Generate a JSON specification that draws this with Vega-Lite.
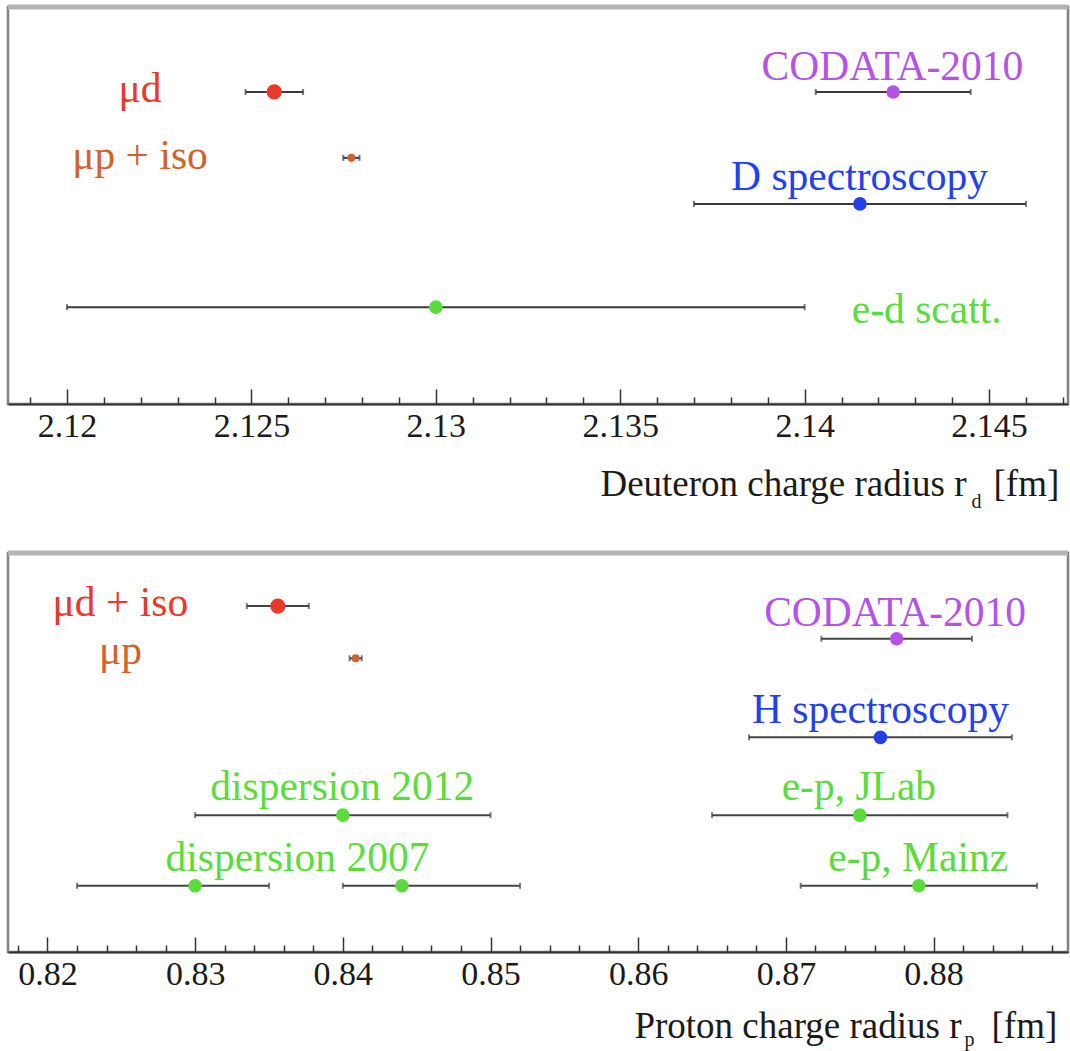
{
  "$schema": "https://vega.github.io/schema/vega-lite/v6.json",
  "padding": {"left": 4, "top": 3, "right": 2, "bottom": 0},
  "autosize": {"type": "pad"},
  "background": "white",
  "bounds": "flush",
  "spacing": 149,
  "config": {
    "view": {"stroke": "#808080", "strokeWidth": 2.5},
    "axis": {"grid": false}
  },
  "datasets": {
    "deut": [
      {"name": "μd", "kind": "muon-d", "r": 2.12562, "lo": 2.12484, "hi": 2.1264, "y": 7.86},
      {"name": "μp + iso", "kind": "muon-p", "r": 2.12771, "lo": 2.12749, "hi": 2.12793, "y": 6.2},
      {"name": "CODATA-2010", "kind": "codata", "r": 2.1424, "lo": 2.1403, "hi": 2.1445, "y": 7.86},
      {"name": "D spectroscopy", "kind": "spectroscopy", "r": 2.1415, "lo": 2.137, "hi": 2.146, "y": 5.04},
      {"name": "e-d scatt.", "kind": "scattering", "r": 2.13, "lo": 2.12, "hi": 2.14, "y": 2.44}
    ],
    "deutLabels": [
      {"text": "μd", "kind": "muon-d", "x": 2.12198, "y": 7.61},
      {"text": "μp + iso", "kind": "muon-p", "x": 2.12198, "y": 5.92},
      {"text": "CODATA-2010", "kind": "codata", "x": 2.14238, "y": 8.17},
      {"text": "D spectroscopy", "kind": "spectroscopy", "x": 2.14149, "y": 5.4},
      {"text": "e-d scatt.", "kind": "scattering", "x": 2.14331, "y": 2.04}
    ],
    "prot": [
      {"name": "μd + iso", "kind": "muon-d", "r": 0.8356, "lo": 0.8335, "hi": 0.8377, "y": 8.67},
      {"name": "μp", "kind": "muon-p", "r": 0.84087, "lo": 0.84046, "hi": 0.84128, "y": 7.36},
      {"name": "CODATA-2010", "kind": "codata", "r": 0.8775, "lo": 0.8724, "hi": 0.8826, "y": 7.85},
      {"name": "H spectroscopy", "kind": "spectroscopy", "r": 0.8764, "lo": 0.8675, "hi": 0.8853, "y": 5.38},
      {"name": "dispersion 2012", "kind": "scattering", "r": 0.84, "lo": 0.83, "hi": 0.85, "y": 3.43},
      {"name": "e-p, JLab", "kind": "scattering", "r": 0.875, "lo": 0.865, "hi": 0.885, "y": 3.43},
      {"name": "dispersion 2007 (a)", "kind": "scattering", "r": 0.83, "lo": 0.822, "hi": 0.835, "y": 1.66},
      {"name": "dispersion 2007 (b)", "kind": "scattering", "r": 0.844, "lo": 0.84, "hi": 0.852, "y": 1.66},
      {"name": "e-p, Mainz", "kind": "scattering", "r": 0.879, "lo": 0.871, "hi": 0.887, "y": 1.66}
    ],
    "protLabels": [
      {"text": "μd + iso", "kind": "muon-d", "x": 0.82494, "y": 8.42},
      {"text": "μp", "kind": "muon-p", "x": 0.82494, "y": 7.21},
      {"text": "CODATA-2010", "kind": "codata", "x": 0.87739, "y": 8.18},
      {"text": "H spectroscopy", "kind": "spectroscopy", "x": 0.8764, "y": 5.74},
      {"text": "dispersion 2012", "kind": "scattering", "x": 0.83996, "y": 3.8},
      {"text": "e-p, JLab", "kind": "scattering", "x": 0.87494, "y": 3.8},
      {"text": "dispersion 2007", "kind": "scattering", "x": 0.83693, "y": 2.03},
      {"text": "e-p, Mainz", "kind": "scattering", "x": 0.87896, "y": 2.03}
    ]
  },
  "vconcat": [
    {
      "width": 1060,
      "height": 397,
      "layer": [
        {
          "data": {"values": [{}]},
          "mark": {"type": "rule", "color": "#b4b4b4", "strokeWidth": 5},
          "encoding": {"y": {"datum": 10, "type": "quantitative", "scale": {"domain": [0, 10], "nice": false, "zero": false}, "axis": null}}
        },
        {
          "data": {"name": "deut"},
          "mark": {"type": "rule", "color": "#3a3a3a", "strokeWidth": 2},
          "encoding": {
            "x": {"field": "lo", "type": "quantitative", "scale": {"domain": [2.1184, 2.14714], "nice": false, "zero": false},
              "axis": {
                "orient": "bottom",
                "values": [2.119, 2.12, 2.121, 2.122, 2.123, 2.124, 2.125, 2.126, 2.127, 2.128, 2.129, 2.13, 2.131, 2.132, 2.133, 2.134, 2.135, 2.136, 2.137, 2.138, 2.139, 2.14, 2.141, 2.142, 2.143, 2.144, 2.145, 2.146, 2.147],
                "domainColor": "#333", "domainWidth": 2,
                "tickColor": "#333", "tickWidth": 1.5,
                "tickSize": {"condition": {"test": "abs(datum.value*200-round(datum.value*200))<1e-6", "value": -15}, "value": -7},
                "labelExpr": "abs(datum.value*200-round(datum.value*200))<1e-6 ? toString(round(datum.value*1000)/1000) : ''",
                "labelFont": "Liberation Serif", "labelFontSize": 34, "labelColor": "#1a1a1a",
                "labelBaseline": "alphabetic", "labelPadding": 47,
                "labelOverlap": false, "labelFlush": false,
                "title": "Deuteron charge radius r",
                "titleFont": "Liberation Serif", "titleFontSize": 37, "titleFontWeight": "normal", "titleColor": "#1a1a1a",
                "titleAnchor": "end", "titleAlign": "right", "titleBaseline": "alphabetic", "titleX": 958, "titleY": 91
              }},
            "x2": {"field": "hi"},
            "y": {"field": "y", "type": "quantitative", "scale": {"domain": [0, 10], "nice": false, "zero": false}, "axis": null}
          }
        },
        {
          "data": {"name": "deut"},
          "mark": {"type": "tick", "orient": "vertical", "size": 6, "thickness": 2, "color": "#3a3a3a"},
          "encoding": {
            "x": {"field": "lo", "type": "quantitative",
              "axis": {"orient": "bottom", "domain": false, "ticks": false, "labels": false, "grid": false,
                "title": "[fm]", "titleFont": "Liberation Serif", "titleFontSize": 37, "titleFontWeight": "normal", "titleColor": "#1a1a1a",
                "titleAnchor": "start", "titleAlign": "left", "titleBaseline": "alphabetic", "titleX": 985, "titleY": 91}},
            "y": {"field": "y", "type": "quantitative", "axis": null}
          }
        },
        {
          "data": {"name": "deut"},
          "mark": {"type": "tick", "orient": "vertical", "size": 6, "thickness": 2, "color": "#3a3a3a"},
          "encoding": {
            "x": {"field": "hi", "type": "quantitative", "axis": null},
            "y": {"field": "y", "type": "quantitative", "axis": null}
          }
        },
        {
          "data": {"name": "deut"},
          "mark": {"type": "circle", "opacity": 1},
          "encoding": {
            "x": {"field": "r", "type": "quantitative", "axis": null},
            "y": {"field": "y", "type": "quantitative", "axis": null},
            "color": {"field": "kind", "type": "nominal", "legend": null,
              "scale": {"domain": ["muon-d", "muon-p", "codata", "spectroscopy", "scattering"], "range": ["#e8392b", "#d2612b", "#b553e8", "#2340ef", "#5bdc3c"]}},
            "size": {"condition": [{"test": "datum.kind === 'muon-p'", "value": 65}, {"test": "datum.kind === 'muon-d'", "value": 230}], "value": 185}
          }
        },
        {
          "data": {"name": "deutLabels"},
          "mark": {"type": "text", "font": "Liberation Serif", "fontSize": 41.5, "align": "center", "baseline": "alphabetic"},
          "encoding": {
            "x": {"field": "x", "type": "quantitative",
              "axis": {"orient": "bottom", "domain": false, "ticks": false, "labels": false, "grid": false,
                "title": "d", "titleFont": "Liberation Serif", "titleFontSize": 20, "titleFontWeight": "normal", "titleColor": "#1a1a1a",
                "titleAnchor": "start", "titleAlign": "left", "titleBaseline": "alphabetic", "titleX": 963, "titleY": 103}},
            "y": {"field": "y", "type": "quantitative", "axis": null},
            "text": {"field": "text"},
            "color": {"field": "kind", "type": "nominal", "legend": null}
          }
        }
      ],
      "resolve": {"axis": {"x": "independent"}}
    },
    {
      "width": 1060,
      "height": 399,
      "layer": [
        {
          "data": {"values": [{}]},
          "mark": {"type": "rule", "color": "#b4b4b4", "strokeWidth": 5},
          "encoding": {"y": {"datum": 10, "type": "quantitative", "scale": {"domain": [0, 10], "nice": false, "zero": false}, "axis": null}}
        },
        {
          "data": {"name": "prot"},
          "mark": {"type": "rule", "color": "#444", "strokeWidth": 2},
          "encoding": {
            "x": {"field": "lo", "type": "quantitative", "scale": {"domain": [0.81733, 0.8891], "nice": false, "zero": false},
              "axis": {
                "orient": "bottom",
                "values": [0.818, 0.82, 0.822, 0.824, 0.826, 0.828, 0.83, 0.832, 0.834, 0.836, 0.838, 0.84, 0.842, 0.844, 0.846, 0.848, 0.85, 0.852, 0.854, 0.856, 0.858, 0.86, 0.862, 0.864, 0.866, 0.868, 0.87, 0.872, 0.874, 0.876, 0.878, 0.88, 0.882, 0.884, 0.886, 0.888],
                "domainColor": "#333", "domainWidth": 2,
                "tickColor": "#333", "tickWidth": 1.5,
                "tickSize": {"condition": {"test": "abs(datum.value*100-round(datum.value*100))<1e-6", "value": -15}, "value": -7},
                "labelExpr": "abs(datum.value*100-round(datum.value*100))<1e-6 ? toString(round(datum.value*100)/100) : ''",
                "labelFont": "Liberation Serif", "labelFontSize": 34, "labelColor": "#1a1a1a",
                "labelBaseline": "alphabetic", "labelPadding": 47,
                "labelOverlap": false, "labelFlush": false,
                "title": "Proton charge radius r",
                "titleFont": "Liberation Serif", "titleFontSize": 37, "titleFontWeight": "normal", "titleColor": "#1a1a1a",
                "titleAnchor": "end", "titleAlign": "right", "titleBaseline": "alphabetic", "titleX": 953, "titleY": 85
              }},
            "x2": {"field": "hi"},
            "y": {"field": "y", "type": "quantitative", "scale": {"domain": [0, 10], "nice": false, "zero": false}, "axis": null}
          }
        },
        {
          "data": {"name": "prot"},
          "mark": {"type": "tick", "orient": "vertical", "size": 6, "thickness": 2, "color": "#444"},
          "encoding": {
            "x": {"field": "lo", "type": "quantitative",
              "axis": {"orient": "bottom", "domain": false, "ticks": false, "labels": false, "grid": false,
                "title": "[fm]", "titleFont": "Liberation Serif", "titleFontSize": 37, "titleFontWeight": "normal", "titleColor": "#1a1a1a",
                "titleAnchor": "start", "titleAlign": "left", "titleBaseline": "alphabetic", "titleX": 983, "titleY": 85}},
            "y": {"field": "y", "type": "quantitative", "axis": null}
          }
        },
        {
          "data": {"name": "prot"},
          "mark": {"type": "tick", "orient": "vertical", "size": 6, "thickness": 2, "color": "#444"},
          "encoding": {
            "x": {"field": "hi", "type": "quantitative", "axis": null},
            "y": {"field": "y", "type": "quantitative", "axis": null}
          }
        },
        {
          "data": {"name": "prot"},
          "mark": {"type": "circle", "opacity": 1},
          "encoding": {
            "x": {"field": "r", "type": "quantitative", "axis": null},
            "y": {"field": "y", "type": "quantitative", "axis": null},
            "color": {"field": "kind", "type": "nominal", "legend": null,
              "scale": {"domain": ["muon-d", "muon-p", "codata", "spectroscopy", "scattering"], "range": ["#e8392b", "#d2612b", "#b553e8", "#2340ef", "#62e444"]}},
            "size": {"condition": [{"test": "datum.kind === 'muon-p'", "value": 65}, {"test": "datum.kind === 'muon-d'", "value": 230}], "value": 185}
          }
        },
        {
          "data": {"name": "protLabels"},
          "mark": {"type": "text", "font": "Liberation Serif", "fontSize": 41.5, "align": "center", "baseline": "alphabetic"},
          "encoding": {
            "x": {"field": "x", "type": "quantitative",
              "axis": {"orient": "bottom", "domain": false, "ticks": false, "labels": false, "grid": false,
                "title": "p", "titleFont": "Liberation Serif", "titleFontSize": 20, "titleFontWeight": "normal", "titleColor": "#1a1a1a",
                "titleAnchor": "start", "titleAlign": "left", "titleBaseline": "alphabetic", "titleX": 956, "titleY": 93}},
            "y": {"field": "y", "type": "quantitative", "axis": null},
            "text": {"field": "text"},
            "color": {"field": "kind", "type": "nominal", "legend": null}
          }
        }
      ],
      "resolve": {"axis": {"x": "independent"}}
    }
  ]
}
